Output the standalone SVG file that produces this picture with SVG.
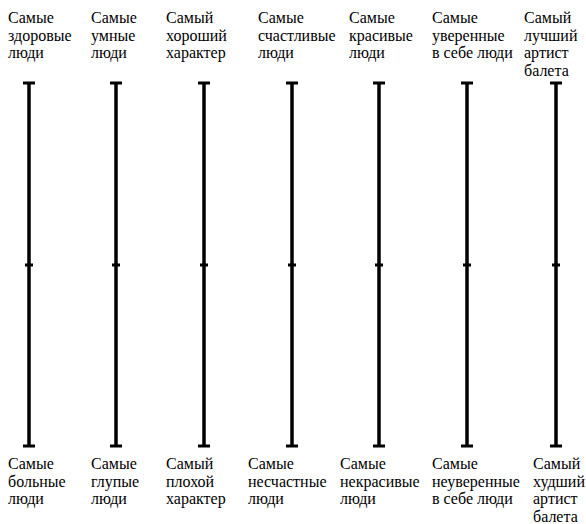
<svg xmlns="http://www.w3.org/2000/svg" width="586" height="524" viewBox="0 0 586 524">
<rect width="586" height="524" fill="#fff"/>
<defs>
<g id="scale" stroke="#000" fill="none">
<line stroke-width="3.5" x1="0" y1="82" x2="0" y2="447"/>
<line stroke-width="3" x1="-6" y1="83" x2="6" y2="83"/>
<line stroke-width="3" x1="-6" y1="446" x2="6" y2="446"/>
<line stroke-width="3" x1="-4" y1="265" x2="4" y2="265"/>
</g>
</defs>
<g id="connectors">
<use href="#scale" x="29"/>
<use href="#scale" x="116"/>
<use href="#scale" x="204"/>
<use href="#scale" x="292"/>
<use href="#scale" x="379"/>
<use href="#scale" x="467"/>
<use href="#scale" x="556"/>
</g>
<g id="top1"><text x="8" y="23" font-family="Liberation Serif" font-size="16">Самые</text><text x="8" y="40.5" font-family="Liberation Serif" font-size="16">здоровые</text><text x="8" y="58" font-family="Liberation Serif" font-size="16">люди</text></g>
<g id="top2"><text x="91" y="23" font-family="Liberation Serif" font-size="16">Самые</text><text x="91" y="40.5" font-family="Liberation Serif" font-size="16">умные</text><text x="91" y="58" font-family="Liberation Serif" font-size="16">люди</text></g>
<g id="top3"><text x="166" y="23" font-family="Liberation Serif" font-size="16">Самый</text><text x="166" y="40.5" font-family="Liberation Serif" font-size="16">хороший</text><text x="166" y="58" font-family="Liberation Serif" font-size="16">характер</text></g>
<g id="top4"><text x="258" y="23" font-family="Liberation Serif" font-size="16">Самые</text><text x="258" y="40.5" font-family="Liberation Serif" font-size="16">счастливые</text><text x="258" y="58" font-family="Liberation Serif" font-size="16">люди</text></g>
<g id="top5"><text x="349" y="23" font-family="Liberation Serif" font-size="16">Самые</text><text x="349" y="40.5" font-family="Liberation Serif" font-size="16">красивые</text><text x="349" y="58" font-family="Liberation Serif" font-size="16">люди</text></g>
<g id="top6"><text x="432" y="23" font-family="Liberation Serif" font-size="16">Самые</text><text x="432" y="40.5" font-family="Liberation Serif" font-size="16">уверенные</text><text x="432" y="58" font-family="Liberation Serif" font-size="16">в себе люди</text></g>
<g id="top7"><text x="524" y="23" font-family="Liberation Serif" font-size="16">Самый</text><text x="524" y="40.5" font-family="Liberation Serif" font-size="16">лучший</text><text x="524" y="58" font-family="Liberation Serif" font-size="16">артист</text><text x="524" y="75.5" font-family="Liberation Serif" font-size="16">балета</text></g>
<g id="bot1"><text x="8" y="469" font-family="Liberation Serif" font-size="16">Самые</text><text x="8" y="486.5" font-family="Liberation Serif" font-size="16">больные</text><text x="8" y="504" font-family="Liberation Serif" font-size="16">люди</text></g>
<g id="bot2"><text x="91" y="469" font-family="Liberation Serif" font-size="16">Самые</text><text x="91" y="486.5" font-family="Liberation Serif" font-size="16">глупые</text><text x="91" y="504" font-family="Liberation Serif" font-size="16">люди</text></g>
<g id="bot3"><text x="166" y="469" font-family="Liberation Serif" font-size="16">Самый</text><text x="166" y="486.5" font-family="Liberation Serif" font-size="16">плохой</text><text x="166" y="504" font-family="Liberation Serif" font-size="16">характер</text></g>
<g id="bot4"><text x="248" y="469" font-family="Liberation Serif" font-size="16">Самые</text><text x="248" y="486.5" font-family="Liberation Serif" font-size="16">несчастные</text><text x="248" y="504" font-family="Liberation Serif" font-size="16">люди</text></g>
<g id="bot5"><text x="340" y="469" font-family="Liberation Serif" font-size="16">Самые</text><text x="340" y="486.5" font-family="Liberation Serif" font-size="16">некрасивые</text><text x="340" y="504" font-family="Liberation Serif" font-size="16">люди</text></g>
<g id="bot6"><text x="432" y="469" font-family="Liberation Serif" font-size="16">Самые</text><text x="432" y="486.5" font-family="Liberation Serif" font-size="16">неуверенные</text><text x="432" y="504" font-family="Liberation Serif" font-size="16">в себе люди</text></g>
<g id="bot7"><text x="533" y="469" font-family="Liberation Serif" font-size="16">Самый</text><text x="533" y="486.5" font-family="Liberation Serif" font-size="16">худший</text><text x="533" y="504" font-family="Liberation Serif" font-size="16">артист</text><text x="533" y="521.5" font-family="Liberation Serif" font-size="16">балета</text></g>
</svg>
